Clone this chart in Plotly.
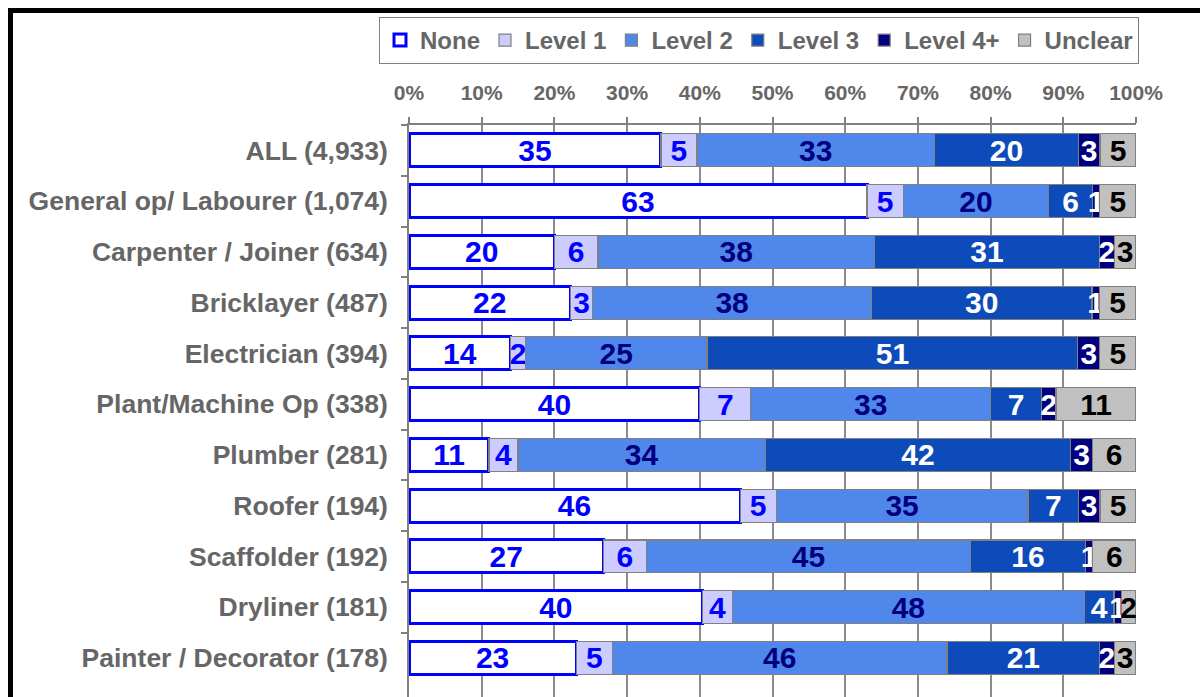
import plotly.graph_objects as go

categories = ["ALL (4,933)", "General op/ Labourer (1,074)", "Carpenter / Joiner (634)",
              "Bricklayer (487)", "Electrician (394)", "Plant/Machine Op (338)",
              "Plumber (281)", "Roofer (194)", "Scaffolder (192)", "Dryliner (181)",
              "Painter / Decorator (178)"]
none_vals = [35, 63, 20, 22, 14, 40, 11, 46, 27, 40, 23]
level1_vals = [5, 5, 6, 3, 2, 7, 4, 5, 6, 4, 5]
level2_vals = [33, 20, 38, 38, 25, 33, 34, 35, 45, 48, 46]
level3_vals = [20, 6, 31, 30, 51, 7, 42, 7, 16, 4, 21]
level4_vals = [3, 1, 2, 1, 3, 2, 3, 3, 1, 1, 2]
unclear_vals = [5, 5, 3, 5, 5, 11, 6, 5, 6, 2, 3]
series_names = ["None", "Level 1", "Level 2", "Level 3", "Level 4+", "Unclear"]
tick_values = [0, 10, 20, 30, 40, 50, 60, 70, 80, 90, 100]
tick_labels = ["0%", "10%", "20%", "30%", "40%", "50%", "60%", "70%", "80%", "90%", "100%"]

series = [none_vals, level1_vals, level2_vals, level3_vals, level4_vals, unclear_vals]
fills = ["#FFFFFF", "#CCCCFF", "#4F88EA", "#0D4BBA", "#000080", "#C0C0C0"]
edges = ["#0000FF", "#808080", "#808080", "#808080", "#808080", "#808080"]
edge_w = [3, 1.2, 1.2, 1.2, 1.2, 1.2]
txt_col = ["#0000FF", "#0000FF", "#000080", "#FFFFFF", "#FFFFFF", "#000000"]

BOLD = "Liberation Sans, Arial, sans-serif"
GREY = "#666666"

fig = go.Figure()
for name, vals, fc, ec, ew, tc in zip(series_names, series, fills, edges, edge_w, txt_col):
    fig.add_trace(go.Bar(
        y=categories, x=vals, name=name, orientation="h",
        marker=dict(color=fc, line=dict(color=ec, width=ew)),
        text=[str(v) for v in vals], texttemplate="%{text}",
        textposition="inside", insidetextanchor="middle", textangle=0,
        constraintext="none",
        textfont=dict(family=BOLD, size=30, color=tc, weight="bold"),
    ))

W, H = 1200, 697
L, R, T, B = 409, 64, 125, 0
ph = H - T - B
pw = W - L - R

fig.update_layout(
    width=W, height=H,
    barmode="stack", barnorm="percent", bargap=0.35,
    margin=dict(l=L, r=R, t=T, b=B, autoexpand=False),
    paper_bgcolor="white", plot_bgcolor="white",
    uniformtext=dict(minsize=30, mode="show"),
    showlegend=True,
    legend=dict(
        orientation="h", xref="paper", yref="paper",
        x=(379 - L) / pw, xanchor="left", y=(H - 17) / ph, yanchor="top",
        bordercolor="#808080", borderwidth=1, bgcolor="white",
        font=dict(family=BOLD, size=24, color=GREY, weight="bold"),
        traceorder="normal", itemwidth=30,
    ),
    xaxis=dict(
        side="top", range=[0, 100], tickvals=tick_values, ticktext=tick_labels,
        showgrid=True, gridcolor="#8C8C8C", gridwidth=2,
        showline=True, linecolor="#808080", linewidth=1.5,
        ticks="outside", ticklen=6, tickcolor="#808080", tickwidth=1.5,
        tickfont=dict(family=BOLD, size=21, color=GREY, weight="bold"),
        ticklabelstandoff=9, zeroline=False, fixedrange=True,
    ),
    yaxis=dict(
        type="category", range=[10.5 + (H - 683.3) / 50.67, -0.5],
        showline=True, linecolor="#808080", linewidth=1.5,
        ticks="outside", ticklen=6, tickcolor="#808080", tickwidth=1.5,
        tickson="boundaries", showgrid=False,
        tickfont=dict(family=BOLD, size=26.5, color=GREY, weight="bold"),
        ticklabelstandoff=14, fixedrange=True,
    ),
)

# outer black frame (extends beyond the visible image on right/bottom)
fig.add_shape(type="rect", xref="paper", yref="paper",
              x0=(10.5 - L) / pw, x1=(W + 30 - L) / pw,
              y0=-0.2, y1=(H - 10.5) / ph,
              line=dict(color="black", width=5), fillcolor="rgba(0,0,0,0)", layer="above")

fig.write_html("out.html", config={"displayModeBar": False},
               post_script="document.body.style.margin='0';document.body.style.overflow='hidden';")
